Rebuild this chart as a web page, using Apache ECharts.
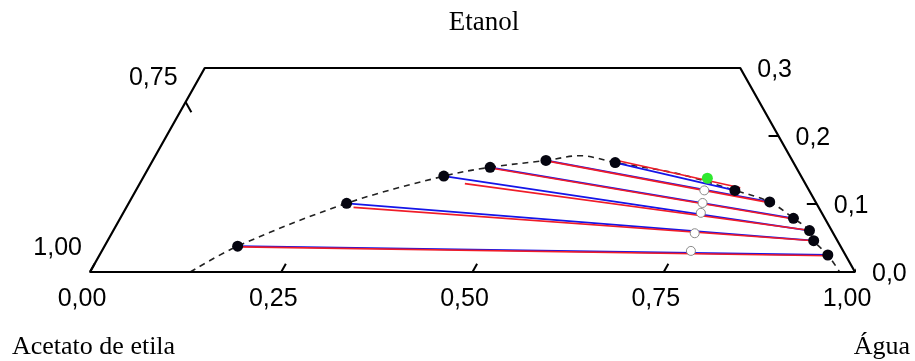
<!DOCTYPE html>
<html>
<head>
<meta charset="utf-8">
<script src="https://cdn.jsdelivr.net/npm/echarts@6/dist/echarts.min.js"></script>
<style>
html,body{margin:0;padding:0;background:#fff;}
#chart{width:915px;height:361px;}
</style>
</head>
<body>
<div id="chart"></div>
<script>
// ---- Data (mass fractions: water, ethanol; acetate = 1 - water - ethanol) ----
// Binodal curve (dashed)
const curveWater   = [0.131, 0.174, 0.285, 0.392, 0.446, 0.514, 0.555, 0.606, 0.694, 0.783, 0.837, 0.880, 0.910, 0.923, 0.952, 0.980];
const curveEthanol = [0.000, 0.038, 0.101, 0.141, 0.154, 0.164, 0.171, 0.161, 0.145, 0.120, 0.103, 0.079, 0.061, 0.046, 0.025, 0.000];
// Experimental tie lines (blue): organic phase -> aqueous phase
const orgWater   = [0.174, 0.285, 0.392, 0.446, 0.514, 0.606];
const orgEthanol = [0.038, 0.101, 0.141, 0.154, 0.164, 0.161];
const aqWater    = [0.952, 0.923, 0.910, 0.880, 0.837, 0.783];
const aqEthanol  = [0.025, 0.046, 0.061, 0.079, 0.103, 0.120];
// Calculated tie lines (red)
const calcOrgWater   = [0.178, 0.297, 0.425, 0.447, 0.517, 0.607];
const calcOrgEthanol = [0.037, 0.095, 0.130, 0.153, 0.163, 0.164];
const calcAqWater    = [0.953, 0.923, 0.911, 0.881, 0.837, 0.788];
const calcAqEthanol  = [0.024, 0.046, 0.061, 0.078, 0.102, 0.124];
// Feed (mixture) points (white)
const feedWater   = [0.770, 0.762, 0.755, 0.750, 0.743];
const feedEthanol = [0.031, 0.057, 0.087, 0.1015, 0.120];
// Highlighted point (green)
const greenWater = [0.738];
const greenEthanol = [0.138];
// Axis ticks
const waterTicks = [0, 0.25, 0.5, 0.75, 1];
const waterTickLabels = ['0,00', '0,25', '0,50', '0,75', '1,00'];
const ethanolTicks = [0, 0.1, 0.2, 0.3];
const ethanolTickLabels = ['0,0', '0,1', '0,2', '0,3'];
const acetateTicks = [1.00, 0.75];
const acetateTickLabels = ['1,00', '0,75'];
const ethanolMax = 0.3;
const titleTop = 'Etanol';
const titleLeft = 'Acetato de etila';
const titleRight = 'Água';

// ternary -> cartesian (x = water + ethanol/2, y = ethanol)
function toXY(w, e) { return [w + e / 2, e]; }

const chart = echarts.init(document.getElementById('chart'), null, {renderer: 'canvas'});

const frame = [toXY(0, 0), toXY(1, 0), toXY(1 - ethanolMax, ethanolMax), toXY(0, ethanolMax), toXY(0, 0)];

const tickSegs = [];
waterTicks.forEach(w => tickSegs.push({coords: [toXY(w, 0), toXY(w, 0.012)]}));
ethanolTicks.forEach(e => tickSegs.push({coords: [toXY(1 - e, e), toXY(1 - e - 0.013, e)]}));
acetateTicks.forEach(a => { const e = 1 - a; tickSegs.push({coords: [toXY(0, e), toXY(0.015, e - 0.015)]}); });

const blueSegs = orgWater.map((w, i) => ({coords: [toXY(w, orgEthanol[i]), toXY(aqWater[i], aqEthanol[i])]}));
const redSegs = calcOrgWater.map((w, i) => ({coords: [toXY(w, calcOrgEthanol[i]), toXY(calcAqWater[i], calcAqEthanol[i])]}));
const curve = curveWater.map((w, i) => toXY(w, curveEthanol[i]));
const endPts = orgWater.map((w, i) => toXY(w, orgEthanol[i])).concat(aqWater.map((w, i) => toXY(w, aqEthanol[i])));
const feedPts = feedWater.map((w, i) => toXY(w, feedEthanol[i]));
const greenPts = greenWater.map((w, i) => toXY(w, greenEthanol[i]));

function labelSeries(points, names, offset, align) {
  return {
    type: 'scatter', z: 10, symbolSize: 1, silent: true,
    itemStyle: {color: 'rgba(0,0,0,0)'},
    data: points.map((p, i) => ({value: p, name: names[i]})),
    label: {show: true, position: 'inside', formatter: '{b}', offset: offset, align: align, verticalAlign: 'middle',
            fontFamily: 'Liberation Sans', fontSize: 25, color: '#000', textBorderWidth: 0, opacity: 1}
  };
}

chart.setOption({
  animation: false,
  backgroundColor: '#fff',
  grid: {left: 90, right: 60, top: 68, bottom: 89},
  xAxis: {type: 'value', min: 0, max: 1, show: false},
  yAxis: {type: 'value', min: 0, max: ethanolMax, show: false},
  graphic: [
    {type: 'text', x: 484, y: 23, style: {text: titleTop, font: '27px "Liberation Serif"', fill: '#000', textAlign: 'center', textVerticalAlign: 'middle'}},
    {type: 'text', x: 12, y: 347, style: {text: titleLeft, font: '26px "Liberation Serif"', fill: '#000', textAlign: 'left', textVerticalAlign: 'middle'}},
    {type: 'text', x: 910, y: 347, style: {text: titleRight, font: '26px "Liberation Serif"', fill: '#000', textAlign: 'right', textVerticalAlign: 'middle'}}
  ],
  series: [
    {type: 'line', data: frame, symbol: 'none', clip: false, z: 3, lineStyle: {color: '#000', width: 2.2}},
    {type: 'lines', coordinateSystem: 'cartesian2d', data: tickSegs, z: 3, lineStyle: {color: '#000', width: 2, opacity: 1}},
    {type: 'line', data: curve, symbol: 'none', smooth: 0.35, clip: false, z: 2, lineStyle: {color: '#222', width: 1.6, type: [6, 5]}},
    {type: 'lines', coordinateSystem: 'cartesian2d', data: blueSegs, z: 4, lineStyle: {color: '#1515e8', width: 1.8, opacity: 1}},
    {type: 'lines', coordinateSystem: 'cartesian2d', data: redSegs, z: 5, lineStyle: {color: '#f01c28', width: 1.6, opacity: 1}},
    {type: 'scatter', data: endPts, z: 6, symbolSize: 11, itemStyle: {color: '#050510', opacity: 1}},
    {type: 'scatter', data: feedPts, z: 7, symbolSize: 9, itemStyle: {color: '#fff', borderColor: '#8a8a8a', borderWidth: 1, opacity: 1}},
    {type: 'scatter', data: greenPts, z: 7, symbolSize: 11, itemStyle: {color: '#30e830', opacity: 1}},
    labelSeries(waterTicks.map(w => toXY(w, 0)), waterTickLabels, [-8, 27], 'center'),
    labelSeries(ethanolTicks.map(e => toXY(1 - e, e)), ethanolTickLabels, [17, 2], 'left'),
    labelSeries(acetateTicks.map(a => toXY(0, 1 - a)), acetateTickLabels, [-8, -24], 'right')
  ]
});
</script>
</body>
</html>
